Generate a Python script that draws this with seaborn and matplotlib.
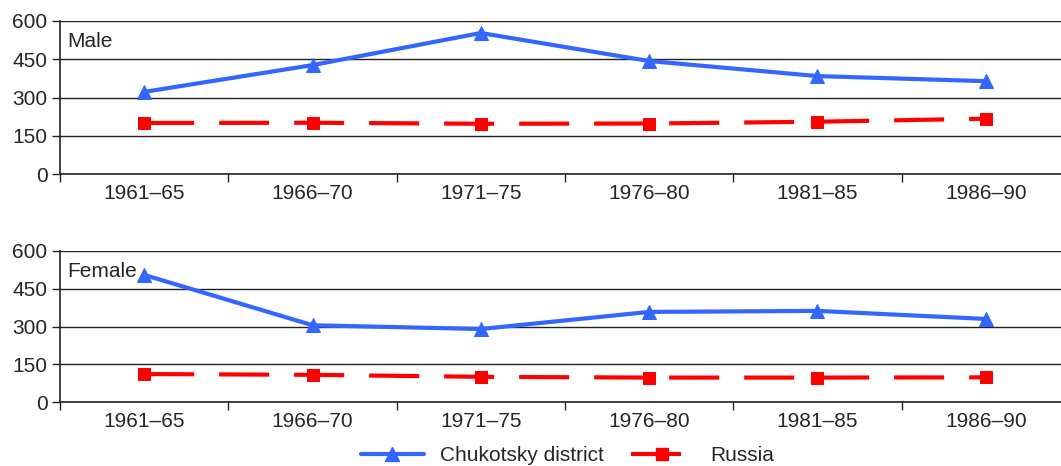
import matplotlib
matplotlib.use('Agg')
import matplotlib.pyplot as plt
import matplotlib.lines as mlines
import pandas as pd
import seaborn as sns
import numpy as np

# Data
periods = ['1961\u201365', '1966\u201370', '1971\u201375', '1976\u201380', '1981\u201385', '1986\u201390']
male_chukotsky = [322, 427, 553, 443, 384, 364]
male_russia = [200, 201, 197, 198, 205, 217]
female_chukotsky = [505, 305, 290, 358, 362, 330]
female_russia = [111, 108, 100, 97, 97, 98]

sns.set_style('white')
plt.rcParams['font.family'] = ['Liberation Sans', 'DejaVu Sans']

blue = '#3366ff'
red = '#ff0000'
pos = np.arange(len(periods))

fig = plt.figure(figsize=(10.61, 4.66), dpi=100)
ax_m = fig.add_axes([60/1061, 1-174/466, 1010/1061, 153/466])
ax_f = fig.add_axes([60/1061, 1-402/466, 1010/1061, 151/466])


def draw_panel(ax, chuk, rus, label):
    df = pd.DataFrame({'pos': pos, 'chuk': chuk, 'rus': rus})
    sns.lineplot(data=df, x='pos', y='chuk', ax=ax, color=blue, lw=3,
                 marker='^', markersize=10, markeredgecolor=blue, zorder=3)
    sns.lineplot(data=df, x='pos', y='rus', ax=ax, color=red, lw=3,
                 linestyle=(0, (12, 6)), marker='s', markersize=9,
                 markeredgecolor=red, zorder=3)
    ax.set_xlim(-0.5, 5.5)
    ax.set_ylim(0, 600)
    ax.set_yticks([0, 150, 300, 450, 600])
    ax.yaxis.grid(True, color='#222222', lw=1)
    ax.set_xticks(pos)
    ax.set_xticklabels(periods)
    ax.set_xticks(np.arange(-0.5, 6, 1), minor=True)
    ax.tick_params(axis='x', which='major', length=0, pad=7, labelsize=15)
    ax.tick_params(axis='x', which='minor', length=6, width=1, color='#222222', direction='out')
    ax.tick_params(axis='y', length=6, width=1, color='#222222', direction='out', labelsize=15, pad=3)
    ax.tick_params(bottom=True, left=True, which='both')
    for s in ['top', 'right']:
        ax.spines[s].set_visible(False)
    for s in ['left', 'bottom']:
        ax.spines[s].set_color('#222222')
        ax.spines[s].set_linewidth(1.2)
    ax.set_xlabel('')
    ax.set_ylabel('')
    ax.text(0.007, 0.93, label, transform=ax.transAxes, fontsize=15, va='top', ha='left')


draw_panel(ax_m, male_chukotsky, male_russia, 'Male')
draw_panel(ax_f, female_chukotsky, female_russia, 'Female')

h1 = mlines.Line2D([], [], color=blue, lw=3, marker='^', markersize=10)
h2 = mlines.Line2D([], [], color=red, lw=3, linestyle=(0, (12, 6)), marker='s', markersize=9)
fig.legend([h1, h2], ['Chukotsky district', 'Russia'], loc='center',
           bbox_to_anchor=(0.535, 0.022), ncol=2, frameon=False, fontsize=15,
           handlelength=3.0, handletextpad=0.8, columnspacing=1.3)

fig.savefig('out.png', dpi=100)
